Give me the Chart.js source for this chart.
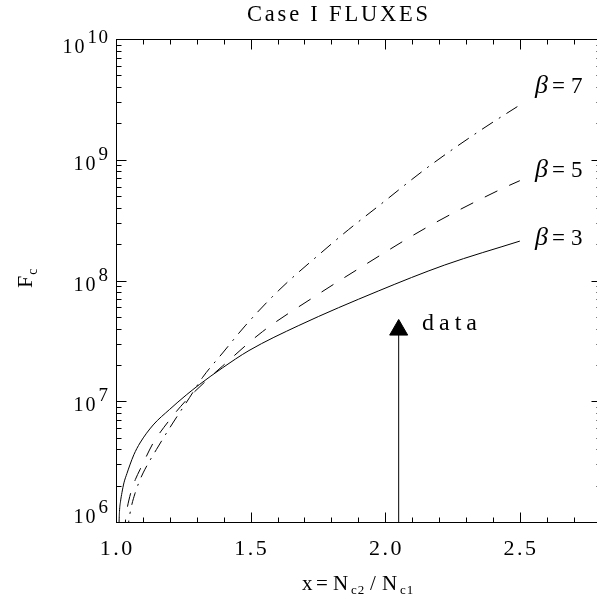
<!DOCTYPE html>
<html>
<head>
<meta charset="utf-8">
<script src="https://cdn.jsdelivr.net/npm/chart.js@4"></script>
<style>
  html, body { margin: 0; padding: 0; background: #fff; overflow: hidden; }
  #wrap { width: 612px; height: 594px; }
</style>
</head>
<body>
<div id="wrap"><canvas id="fluxChart" width="612" height="594"></canvas></div>
<script>
// Values: x = Nc2/Nc1, F_c
const beta3X = [1.0110, 1.0116, 1.0129, 1.0166, 1.0221, 1.0295, 1.0406, 1.0517, 1.0664, 1.089, 1.138, 1.199, 1.261, 1.310, 1.395, 1.494, 1.679, 1.974, 2.221, 2.500];
const beta3F = [8.0e5, 1.0e6, 1.22e6, 1.47e6, 1.75e6, 2.11e6, 2.52e6, 2.97e6, 3.61e6, 4.51e6, 6.36e6, 8.55e6, 1.127e7, 1.376e7, 1.886e7, 2.63e7, 4.24e7, 8.18e7, 1.344e8, 2.12e8];

const beta5X = [1.034, 1.0351, 1.0406, 1.0480, 1.0579, 1.0720, 1.0886, 1.1107, 1.1376, 1.199, 1.261, 1.335, 1.395, 1.544, 1.728, 1.913, 2.159, 2.423, 2.500];
const beta5F = [8.0e5, 1.0e6, 1.26e6, 1.52e6, 1.84e6, 2.25e6, 2.7e6, 3.42e6, 4.49e6, 7.0e6, 1.02e7, 1.48e7, 1.95e7, 3.77e7, 7.13e7, 1.3e8, 2.79e8, 5.61e8, 6.71e8];

const beta7X = [1.046, 1.0472, 1.0517, 1.0590, 1.0701, 1.0849, 1.1007, 1.150, 1.211, 1.273, 1.322, 1.396, 1.482, 1.605, 1.765, 1.863, 1.974, 2.159, 2.355, 2.500];
const beta7F = [8.0e5, 1.0e6, 1.17e6, 1.40e6, 1.71e6, 2.12e6, 2.55e6, 3.98e6, 6.6e6, 1.07e7, 1.58e7, 2.51e7, 4.27e7, 8.3e7, 1.72e8, 2.63e8, 4.12e8, 8.7e8, 1.76e9, 2.84e9];

// the "data" arrow
const arrowX = 2.05;
const arrowFrom = 1e6;
const arrowHead = 3.9e7;

// ticks
const xMajorTicks = [1.0, 1.5, 2.0, 2.5];
const xMajorLabels = ['1.0', '1.5', '2.0', '2.5'];
const xMinorTicks = [1.0, 1.1, 1.2, 1.3, 1.4, 1.5, 1.6, 1.7, 1.8, 1.9, 2.0, 2.1, 2.2, 2.3, 2.4, 2.5, 2.6, 2.7, 2.8];
const yDecades = [6, 7, 8, 9, 10];
const yMinorMults = [2, 3, 4, 5, 6, 7, 8, 9];

const FONT = '"Liberation Serif"';

function pts(xs, ys) {
    return xs.map((x, i) => ({x: x, y: ys[i]}));
}

function drawText(ctx, s, x, y, size, spacing, italic) {
    ctx.font = (italic ? 'italic ' : '') + size + 'px ' + FONT;
    ctx.letterSpacing = (spacing || 0) + 'px';
    ctx.textAlign = 'left';
    ctx.textBaseline = 'alphabetic';
    ctx.fillText(s, x, y);
    return ctx.measureText(s).width;
}

function textWidth(ctx, s, size, spacing) {
    ctx.font = size + 'px ' + FONT;
    ctx.letterSpacing = (spacing || 0) + 'px';
    return ctx.measureText(s).width - (spacing || 0);
}

// frame, inward ticks and all the labels
const frameAndLabels = {
    id: 'frameAndLabels',
    afterDraw(chart) {
        const ctx = chart.ctx;
        const a = chart.chartArea;
        const xs = chart.scales.x;
        const ys = chart.scales.y;
        const L = Math.round(a.left) + 0.5, R = Math.round(a.right) + 0.5;
        const T = Math.round(a.top) + 0.5, B = Math.round(a.bottom) + 0.5;

        ctx.save();
        ctx.strokeStyle = '#000';
        ctx.fillStyle = '#000';
        ctx.lineWidth = 1;
        ctx.strokeRect(L, T, R - L, B - T);

        ctx.beginPath();
        xMinorTicks.forEach(v => {
            const px = Math.round(xs.getPixelForValue(v)) + 0.5;
            const major = xMajorTicks.some(m => Math.abs(m - v) < 1e-6);
            const len = major ? 10 : 5;
            ctx.moveTo(px, B); ctx.lineTo(px, B - len);
            ctx.moveTo(px, T); ctx.lineTo(px, T + len);
        });
        yDecades.forEach(d => {
            const py = Math.round(ys.getPixelForValue(Math.pow(10, d))) + 0.5;
            ctx.moveTo(L, py); ctx.lineTo(L + 10, py);
            ctx.moveTo(R, py); ctx.lineTo(R - 10, py);
            if (d < 10) {
                yMinorMults.forEach(m => {
                    const q = Math.round(ys.getPixelForValue(m * Math.pow(10, d))) + 0.5;
                    ctx.moveTo(L, q); ctx.lineTo(L + 5, q);
                    ctx.moveTo(R, q); ctx.lineTo(R - 5, q);
                });
            }
        });
        ctx.stroke();

        // x tick labels
        xMajorTicks.forEach((v, i) => {
            const px = xs.getPixelForValue(v);
            const w = textWidth(ctx, xMajorLabels[i], 22, 2.5);
            drawText(ctx, xMajorLabels[i], px - w / 2, 555, 22, 2.5);
        });

        // y tick labels 10^n
        yDecades.forEach((d, i) => {
            const py = ys.getPixelForValue(Math.pow(10, d));
            const dy = i === yDecades.length - 1 ? 14 : (i === 0 ? 1 : 10);
            const exp = String(d);
            const ew = textWidth(ctx, exp, 19, 1.5);
            drawText(ctx, exp, 108 - ew, py + dy - 10, 19, 1.5);
            const mw = textWidth(ctx, '10', 20, 2);
            drawText(ctx, '10', 108 - ew - 3 - mw, py + dy, 20, 2);
        });

        // title
        drawText(ctx, 'Case I FLUXES', 247, 21, 22.5, 2.8);

        // x axis title
        drawText(ctx, 'x', 302, 590, 21, 0);
        drawText(ctx, '=', 316, 590, 21, 0);
        drawText(ctx, 'N', 333, 590, 21, 0);
        drawText(ctx, 'c2', 351, 594, 13, 1);
        drawText(ctx, '/', 370, 590, 21, 0);
        drawText(ctx, 'N', 382, 590, 21, 0);
        drawText(ctx, 'c1', 400, 594, 13, 1);

        // y axis title, rotated
        ctx.save();
        ctx.translate(32, 288);
        ctx.rotate(-Math.PI / 2);
        const fw = drawText(ctx, 'F', 0, 0, 22, 0);
        drawText(ctx, 'c', fw + 1, 5, 14, 0);
        ctx.restore();

        // curve labels
        [['7', 93], ['5', 177], ['3', 245]].forEach(([b, base]) => {
            drawText(ctx, '\u03b2', 535, base, 26, 0, true);
            drawText(ctx, '=', 552, base, 23, 0);
            drawText(ctx, b, 571, base, 23, 0);
        });

        drawText(ctx, 'data', 422, 330, 24, 5);
        ctx.restore();
    }
};

const lineStyle = {
    borderColor: '#000',
    borderWidth: 1,
    pointRadius: 0,
    fill: false,
    cubicInterpolationMode: 'monotone'
};

new Chart(document.getElementById('fluxChart').getContext('2d'), {
    type: 'line',
    data: {
        datasets: [
            Object.assign({label: 'beta=3', data: pts(beta3X, beta3F)}, lineStyle),
            Object.assign({label: 'beta=5', data: pts(beta5X, beta5F), borderDash: [14, 13]}, lineStyle),
            Object.assign({label: 'beta=7', data: pts(beta7X, beta7F), borderDash: [13, 7, 2, 7]}, lineStyle),
            {
                label: 'data',
                data: [{x: arrowX, y: arrowFrom}, {x: arrowX, y: arrowHead}],
                borderColor: '#000',
                borderWidth: 1,
                pointStyle: 'triangle',
                pointRadius: [0, 10.4],
                pointBackgroundColor: '#000',
                pointBorderColor: '#000',
                pointBorderWidth: 1,
                fill: false
            }
        ]
    },
    options: {
        responsive: false,
        animation: false,
        devicePixelRatio: 1,
        layout: {padding: {left: 116, top: 39, right: 8, bottom: 72}},
        plugins: {
            legend: {display: false},
            tooltip: {enabled: false},
            title: {display: false}
        },
        scales: {
            x: {type: 'linear', min: 1.0, max: 2.8, display: false},
            y: {type: 'logarithmic', min: 1e6, max: 1e10, display: false}
        }
    },
    plugins: [frameAndLabels]
});
</script>
</body>
</html>
